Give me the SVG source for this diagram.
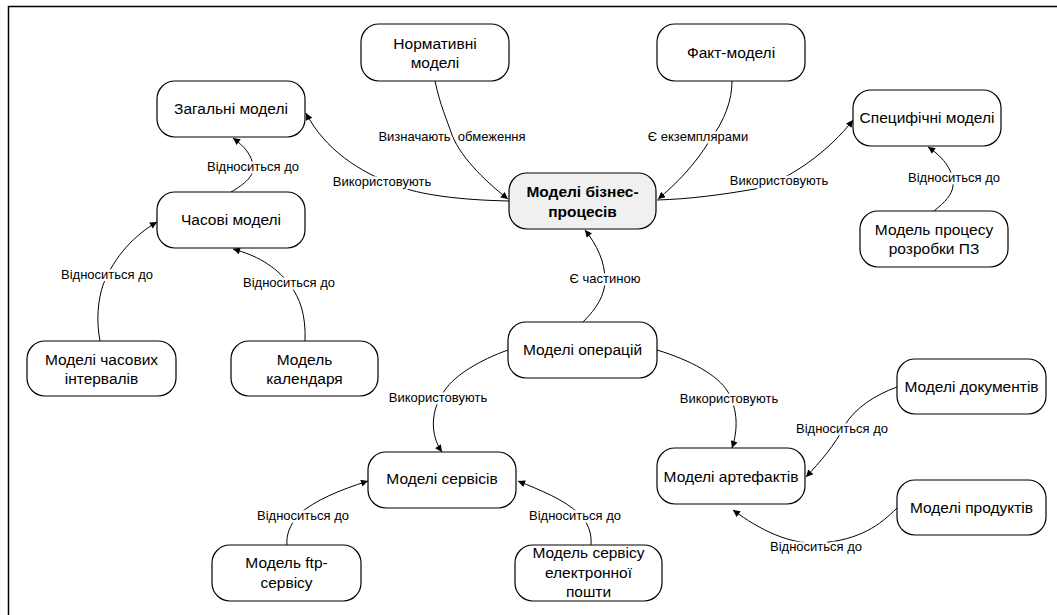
<svg xmlns="http://www.w3.org/2000/svg" width="1057" height="615" viewBox="0 0 1057 615">
<defs>
<marker id="arr" viewBox="0 0 10 10" refX="10" refY="5" markerWidth="9" markerHeight="7" markerUnits="userSpaceOnUse" orient="auto">
<path d="M0,0 L10,5 L0,10 z" fill="#000"/>
</marker>
<style>
.node rect{fill:#fff;stroke:#000;stroke-width:1.2}
.node.main rect{fill:#f0f0f0}
.node text{font-family:"Liberation Sans",Arial,sans-serif;font-size:15.5px;fill:#000;text-anchor:middle}
.node.main text{font-weight:bold}
.edges path{fill:none;stroke:#000;stroke-width:1;marker-end:url(#arr)}
.lbl{font-family:"Liberation Sans",Arial,sans-serif;font-size:13px;fill:#000;text-anchor:middle;stroke:#fff;stroke-width:5;paint-order:stroke;stroke-linejoin:round;white-space:pre}
.frame{fill:none;stroke:#000;stroke-width:1.5}
</style>
</defs>
<rect width="1057" height="615" fill="#fff"/>
<path class="frame" d="M8.5,615 L8.5,6.5 L1057,6.5"/>

<g class="edges" id="connectors">
<path d="M231,192 C245,184 255,175 253,166 C252,155 244,146 233,138"/>
<path d="M509,201 C460,200 420,195 395,185 C360,172 325,150 306,113"/>
<path d="M435,81 C440,105 447,120 452,135 C462,160 490,185 508,199"/>
<path d="M732,81 C732,100 725,120 710,140 C695,165 675,185 658,199"/>
<path d="M657,200 C690,199 720,195 755,189 C790,180 830,150 853,120"/>
<path d="M934,211 C945,202 952,195 953,186 C954,168 940,155 928,147"/>
<path d="M100,341 C96,320 98,300 103,285 C115,255 135,235 157,222"/>
<path d="M305,341 C306,315 300,298 290,285 C275,265 255,255 233,249"/>
<path d="M583,322 C597,308 605,295 605,280 C605,262 597,245 585,230"/>
<path d="M508,350 C480,360 455,375 445,390 C430,410 430,435 442,452"/>
<path d="M657,350 C690,360 718,375 728,392 C738,410 738,430 732,448"/>
<path d="M897,387 C875,395 855,408 845,425 C835,445 820,462 806,477"/>
<path d="M897,508 C880,525 860,540 820,543 C790,545 760,530 733,510"/>
<path d="M287,545 C286,535 290,525 298,515 C315,500 340,490 368,481"/>
<path d="M591,545 C592,533 588,522 578,513 C565,500 540,490 518,481"/>
<text class="lbl" x="253" y="171">Відноситься до</text>
<text class="lbl" x="382" y="186">Використовують</text>
<text class="lbl" x="452" y="141" xml:space="preserve">Визначають  обмеження</text>
<text class="lbl" x="698" y="141">Є екземплярами</text>
<text class="lbl" x="779" y="185">Використовують</text>
<text class="lbl" x="954" y="182">Відноситься до</text>
<text class="lbl" x="107" y="279">Відноситься до</text>
<text class="lbl" x="289" y="287">Відноситься до</text>
<text class="lbl" x="605" y="283">Є частиною</text>
<text class="lbl" x="438" y="402">Використовують</text>
<text class="lbl" x="729" y="403">Використовують</text>
<text class="lbl" x="842" y="433">Відноситься до</text>
<text class="lbl" x="816" y="551">Відноситься до</text>
<text class="lbl" x="303" y="520">Відноситься до</text>
<text class="lbl" x="575" y="520">Відноситься до</text>
</g>

<g class="node main" id="n-biznes"><rect x="509" y="173" width="147" height="56" rx="18"/><text x="582.5" y="197">Моделі бізнес-</text><text x="582.5" y="217">процесів</text></g>
<g class="node" id="n-normatyvni"><rect x="361" y="24" width="148" height="57" rx="18"/><text x="435" y="49">Нормативні</text><text x="435" y="68">моделі</text></g>
<g class="node" id="n-fakt"><rect x="657" y="24" width="148" height="57" rx="18"/><text x="731" y="58">Факт-моделі</text></g>
<g class="node" id="n-zagalni"><rect x="157" y="81" width="148" height="56" rx="18"/><text x="231" y="114">Загальні моделі</text></g>
<g class="node" id="n-chasovi"><rect x="157" y="192" width="148" height="56" rx="18"/><text x="231" y="225">Часові моделі</text></g>
<g class="node" id="n-intervaly"><rect x="27" y="341" width="149" height="55" rx="18"/><text x="101.5" y="365">Моделі часових</text><text x="101.5" y="384">інтервалів</text></g>
<g class="node" id="n-kalendar"><rect x="231" y="341" width="147" height="55" rx="18"/><text x="304.5" y="365">Модель</text><text x="304.5" y="384">календаря</text></g>
<g class="node" id="n-specyfichni"><rect x="853" y="90" width="148" height="56" rx="18"/><text x="927" y="123">Специфічні моделі</text></g>
<g class="node" id="n-proces-pz"><rect x="860" y="211" width="148" height="56" rx="18"/><text x="934" y="235">Модель процесу</text><text x="934" y="254">розробки ПЗ</text></g>
<g class="node" id="n-operacii"><rect x="508" y="322" width="149" height="56" rx="18"/><text x="582.5" y="355">Моделі операцій</text></g>
<g class="node" id="n-servisy"><rect x="368" y="452" width="148" height="56" rx="18"/><text x="442" y="484">Моделі сервісів</text></g>
<g class="node" id="n-artefakty"><rect x="657" y="448" width="148" height="56" rx="18"/><text x="731" y="482">Моделі артефактів</text></g>
<g class="node" id="n-dokumenty"><rect x="897" y="359" width="149" height="55" rx="18"/><text x="971.5" y="392">Моделі документів</text></g>
<g class="node" id="n-produkty"><rect x="897" y="480" width="149" height="55" rx="18"/><text x="971.5" y="513">Моделі продуктів</text></g>
<g class="node" id="n-ftp"><rect x="212" y="545" width="149" height="56" rx="18"/><text x="286.5" y="568">Модель ftp-</text><text x="286.5" y="588">сервісу</text></g>
<g class="node" id="n-poshta"><rect x="515" y="545" width="147" height="56" rx="18"/><text x="588.5" y="558">Модель сервісу</text><text x="588.5" y="578">електронної</text><text x="588.5" y="597">пошти</text></g>
</svg>
